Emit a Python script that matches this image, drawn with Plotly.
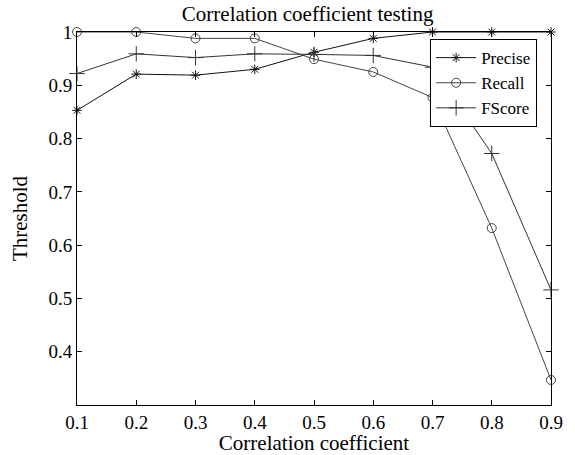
import plotly.graph_objects as go

x = [0.1, 0.2, 0.3, 0.4, 0.5, 0.6, 0.7, 0.8, 0.9]
precise = [0.853, 0.921, 0.919, 0.930, 0.962, 0.988, 1.0, 1.0, 1.0]
recall = [1.0, 1.0, 0.988, 0.988, 0.949, 0.925, 0.877, 0.632, 0.347]
fscore = [0.922, 0.959, 0.952, 0.959, 0.958, 0.956, 0.934, 0.772, 0.516]
xticks = [0.1, 0.2, 0.3, 0.4, 0.5, 0.6, 0.7, 0.8, 0.9]
yticks = [0.4, 0.5, 0.6, 0.7, 0.8, 0.9, 1.0]
ytick_text = ["0.4", "0.5", "0.6", "0.7", "0.8", "0.9", "1"]

font = "Liberation Serif"

fig = go.Figure()
fig.add_trace(go.Scatter(x=x, y=precise, name="Precise", mode="lines+markers",
                         line=dict(color="#111111", width=1),
                         marker=dict(symbol="asterisk-open", size=8, color="#111111",
                                     line=dict(width=1, color="#111111")),
                         cliponaxis=False))
fig.add_trace(go.Scatter(x=x, y=recall, name="Recall", mode="lines+markers",
                         line=dict(color="#444444", width=1),
                         marker=dict(symbol="circle-open", size=9, color="#444444",
                                     line=dict(width=1, color="#444444")),
                         cliponaxis=False))
fig.add_trace(go.Scatter(x=x, y=fscore, name="FScore", mode="lines+markers",
                         line=dict(color="#333333", width=1),
                         marker=dict(symbol="cross-thin-open", size=11, color="#333333",
                                     line=dict(width=1, color="#333333")),
                         cliponaxis=False))

fig.update_layout(
    width=575, height=455,
    margin=dict(l=77, r=24, t=32, b=50, autoexpand=False),
    paper_bgcolor="white", plot_bgcolor="white",
    font=dict(family=font, size=19, color="black"),
    title=dict(text="Correlation coefficient testing", x=0.535, xanchor="center",
               y=0.9692, yanchor="middle", font=dict(family=font, size=21, color="black")),
    showlegend=True,
    legend=dict(x=0.745, y=0.981, xanchor="left", yanchor="top",
                bgcolor="white", bordercolor="black", borderwidth=1,
                font=dict(family=font, size=17, color="black"),
                tracegroupgap=0, itemwidth=40),
    xaxis=dict(range=[0.1, 0.9], tickvals=xticks, ticktext=[str(v) for v in xticks],
               showgrid=False, zeroline=False, showline=True, linecolor="black",
               linewidth=1, mirror="ticks", ticks="inside", ticklen=5,
               tickcolor="black", automargin=False,
               tickfont=dict(family=font, size=19),
               title=dict(text="Correlation coefficient", standoff=6,
                          font=dict(family=font, size=21))),
    yaxis=dict(range=[0.3, 1.0], tickvals=yticks, ticktext=ytick_text,
               showgrid=False, zeroline=False, showline=True, linecolor="black",
               linewidth=1, mirror="ticks", ticks="inside", ticklen=5,
               tickcolor="black", automargin=False,
               tickfont=dict(family=font, size=19),
               title=dict(text="Threshold", standoff=15,
                          font=dict(family=font, size=21))),
)

fig.write_html("out.html",
               config={"displayModeBar": False},
               post_script="document.body.style.margin='0';document.body.style.padding='0';")
